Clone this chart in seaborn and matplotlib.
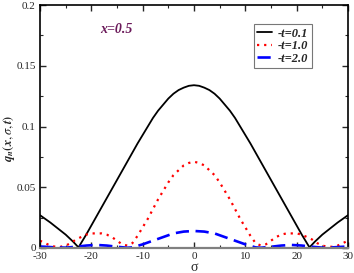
import numpy as np
import pandas as pd
import matplotlib
matplotlib.use("Agg")
import matplotlib.pyplot as plt
import seaborn as sns
from matplotlib.ticker import MultipleLocator

# Data (one half, mirrored about sigma = 0)
sig_black = [0, 1, 2, 3, 4, 5, 6, 7, 8, 9, 10, 11, 13, 15, 17, 19, 21, 22.5,
             23.5, 25, 26.5, 28, 29, 30]
val_black = [0.134, 0.1335, 0.132, 0.130, 0.127, 0.123, 0.118, 0.113, 0.107, 0.100,
             0.093, 0.086, 0.071, 0.056, 0.041, 0.026, 0.011, 0.0005,
             0.005, 0.011, 0.016, 0.021, 0.024, 0.027]

sig_red = [0, 1, 2, 3, 4, 5, 6, 7, 8, 9, 10, 11, 12, 13, 14, 15, 16, 17, 18, 19,
           20, 21, 22, 23, 24, 25, 26, 27, 28, 29, 30]
val_red = [0.071, 0.070, 0.068, 0.064, 0.060, 0.054, 0.047, 0.040, 0.032, 0.024,
           0.017, 0.010, 0.004, 0.002, 0.003, 0.006, 0.009, 0.011, 0.012, 0.012,
           0.012, 0.011, 0.009, 0.007, 0.004, 0.002, 0.001, 0.001, 0.002, 0.004, 0.006]

sig_blue = [0, 2, 4, 6, 8, 10, 12, 13, 15, 17, 19, 21, 23, 25, 27, 29, 30]
val_blue = [0.014, 0.0135, 0.012, 0.009, 0.006, 0.003, 0.0005, 0.0002, 0.001, 0.002,
            0.0025, 0.002, 0.001, 0.0003, 0.0005, 0.001, 0.0012]

labels = ["-t=0.1", "-t=1.0", "-t=2.0"]


def mirror(s, v):
    s = np.array(s, float)
    v = np.array(v, float)
    return np.concatenate([-s[::-1], s[1:]]), np.concatenate([v[::-1], v[1:]])


sns.set_style("ticks")
plt.rcParams["font.family"] = ["Liberation Serif", "DejaVu Serif"]
plt.rcParams["mathtext.fontset"] = "stix"

fig = plt.figure(figsize=(3.54, 2.73), dpi=100)
ax = fig.add_axes([0.113, 0.0916, 0.870, 0.890])

styles = [dict(color="black", lw=1.3, ls="-"),
          dict(color="red", lw=1.6, ls=(0, (1, 2.2))),
          dict(color="blue", lw=1.9, ls=(0, (5, 2.5)))]

for (s, v), lab, st in zip([(sig_black, val_black), (sig_red, val_red), (sig_blue, val_blue)],
                           labels, styles):
    x, y = mirror(s, v)
    df = pd.DataFrame({"sigma": x, "q": y})
    sns.lineplot(data=df, x="sigma", y="q", ax=ax, label=lab, sort=False, **st)

ax.set_xlim(-30, 30)
ax.set_ylim(0, 0.2)
ax.xaxis.set_minor_locator(MultipleLocator(5))
ax.yaxis.set_minor_locator(MultipleLocator(0.025))
ax.set_xticks([-30, -20, -10, 0, 10, 20, 30])
ax.set_xticklabels(["-30", "-20", "-10", "0", "10", "20", "30"])
ax.set_yticks([0, 0.05, 0.1, 0.15, 0.2])
ax.set_yticklabels(["0", "0.05", "0.1", "0.15", "0.2"])
ax.tick_params(which="both", direction="in", top=True, right=True, labelsize=8, pad=3)
ax.tick_params(which="major", length=4, width=1)
ax.tick_params(which="minor", length=2, width=0.8)
for sp in ax.spines.values():
    sp.set_linewidth(1.2)
    sp.set_color("black")
ax.spines["bottom"].set_color("#808080")
ax.spines["bottom"].set_linewidth(1.6)

ax.set_xlabel("σ", fontsize=10, labelpad=0)
ax.set_ylabel(r"$\boldsymbol{q}_{\boldsymbol{n}}\boldsymbol{(x,}\sigma\boldsymbol{,t)}$", fontsize=9)
ax.yaxis.set_label_coords(-0.075, 0.45)

ax.text(0.195, 0.885, "x=0.5", transform=ax.transAxes, fontsize=10, fontstyle="italic",
        fontweight="bold", color="#6b1a5a")

leg = ax.legend(loc="upper right", bbox_to_anchor=(0.882, 0.92), frameon=True, fancybox=False,
                handlelength=1.2, handletextpad=0.5, borderpad=0.25, labelspacing=0.05,
                borderaxespad=0.0,
                prop=dict(family="Liberation Serif", style="italic", weight="bold", size=9))
leg.get_frame().set_edgecolor("#555555")
leg.get_frame().set_linewidth(0.8)

fig.savefig("out.png", dpi=100)
